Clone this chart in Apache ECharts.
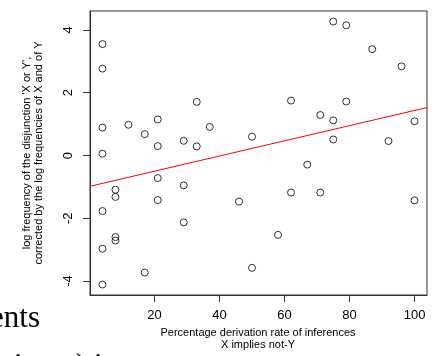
<!DOCTYPE html>
<html>
<head>
<meta charset="utf-8">
<script src="https://cdn.jsdelivr.net/npm/echarts@6/dist/echarts.min.js"></script>
<style>
  html, body { margin: 0; padding: 0; background: #fff; }
  #chart { width: 435px; height: 356px; }
</style>
</head>
<body>
<div id="chart"></div>
<script>
// derivation rate (%) and corrected log frequency
const rateX = [4, 4, 4, 4, 4, 4, 4, 8, 8, 8, 8, 12, 17, 17, 21, 21, 21, 21, 29, 29, 29, 33, 33, 37,
  46, 50, 50, 58, 62, 62, 67, 71, 71, 75, 75, 75, 79, 79, 87, 92, 96, 100, 100];
const logFreqY = [3.55, 2.77, 0.89, 0.06, -1.77, -2.97, -4.11, -1.09, -1.32, -2.60, -2.71, 0.98, 0.68, -3.73,
  1.15, 0.30, -0.72, -1.42, 0.47, -0.95, -2.13, 1.71, 0.29, 0.91,
  -1.47, 0.60, -3.58, -2.53, 1.75, -1.18, -0.29, 1.29, -1.18, 4.27, 1.12, 0.51, 4.15, 1.72, 3.39, 0.46, 2.84, 1.09, -1.43];
const xTicks = [20, 40, 60, 80, 100];
const yTicks = [-4, -2, 0, 2, 4];
// fitted line (abline)
const fitIntercept = -0.984;
const fitSlope = 0.0242;

const xMin = 0.16, xMax = 103.84;
const yMin = -4.445, yMax = 4.605;

const points = rateX.map((x, i) => [x, logFreqY[i]]);
const fitLine = [[xMin, fitIntercept + fitSlope * xMin], [xMax, fitIntercept + fitSlope * xMax]];

const sans = "Liberation Sans, Arial, sans-serif";
// ticks only get drawn when splitLine is on, so keep it on but invisible
const hiddenSplit = { show: true, lineStyle: { color: "rgba(0,0,0,0)" } };
const chart = echarts.init(document.getElementById("chart"));
chart.setOption({
  animation: false,
  grid: { left: 90, right: 8, top: 11, bottom: 61, show: true, borderColor: "#333", borderWidth: 1 },
  xAxis: {
    type: "value", min: xMin, max: xMax,
    axisLine: { show: true, onZero: false, lineStyle: { color: "#333" } },
    splitLine: hiddenSplit,
    axisTick: { show: true, length: 7, customValues: xTicks, lineStyle: { color: "#333" } },
    axisLabel: { customValues: xTicks, margin: 14, color: "#000", fontSize: 13, fontFamily: sans },
  },
  yAxis: {
    type: "value", min: yMin, max: yMax,
    axisLine: { show: true, onZero: false, lineStyle: { color: "#333" } },
    splitLine: hiddenSplit,
    axisTick: { show: true, length: 7, customValues: yTicks, lineStyle: { color: "#333" } },
    axisLabel: { customValues: yTicks, rotate: 90, margin: 15, color: "#000", fontSize: 13, fontFamily: sans },
  },
  series: [
    {
      type: "scatter",
      data: points,
      symbol: "circle",
      symbolSize: 7,
      itemStyle: { color: "rgba(255,255,255,0)", borderColor: "#000", borderWidth: 1 },
    },
    {
      type: "line",
      data: fitLine,
      showSymbol: false,
      lineStyle: { color: "#ff0000", width: 1 },
    },
  ],
  graphic: [
    {
      type: "text", x: 33, y: 153, rotation: Math.PI / 2,
      style: {
        text: "log frequency of the disjunction 'X or Y',\ncorrected by the log frequencies of X and of Y",
        font: "11px " + sans, fill: "#000", align: "center", verticalAlign: "middle", lineHeight: 12,
      },
    },
    {
      type: "text", x: 258, y: 339,
      style: {
        text: "Percentage derivation rate of inferences\nX implies not-Y",
        font: "11px " + sans, fill: "#000", align: "center", verticalAlign: "middle", lineHeight: 12,
      },
    },
    {
      type: "text", x: 40, y: 334,
      style: { text: "ents", font: "31px Liberation Serif, serif", fill: "#000", align: "right", verticalAlign: "bottom" },
    },
    {
      type: "text", x: 118, y: 382,
      style: { text: "disjunct) in", font: "31px Liberation Serif, serif", fill: "#000", align: "right", verticalAlign: "bottom" },
    },
  ],
});
</script>
</body>
</html>
